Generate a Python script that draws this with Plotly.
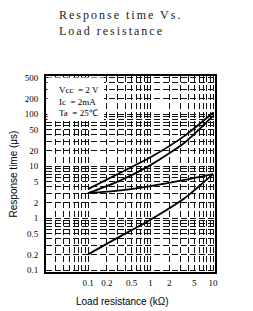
import plotly.graph_objects as go

# Data
load_k = [0.1, 0.3, 1.0, 3.5, 10]
curve_a = [3.6, 7.0, 14.7, 38, 106]
curve_b = [3.0, 5.0, 10.4, 28, 92]
curve_c = [3.0, 3.35, 4.1, 5.4, 7.0]
curve_d = [0.2, 0.42, 0.93, 2.4, 7.0]

x_ticks = [0.1, 0.2, 0.5, 1, 2, 5, 10]
x_tick_text = ["0.1", "0.2", "0.5", "1", "2", "5", "10"]
y_ticks = [0.1, 0.2, 0.5, 1, 2, 5, 10, 20, 50, 100, 200, 500]
y_tick_text = ["0.1", "0.2", "0.5", "1", "2", "5", "10", "20", "50", "100", "200", "500"]

x_minor = [m * d for d in (0.01, 0.1, 1) for m in range(2, 10)] + [0.1, 1, 10]
y_minor = [m * d for d in (0.1, 1, 10, 100) for m in range(1, 10)]

fig = go.Figure()
for ys in (curve_a, curve_b, curve_c, curve_d):
    fig.add_trace(go.Scatter(x=load_k, y=ys, mode="lines",
                             line=dict(color="black", width=1.8, shape="spline", smoothing=0.6),
                             showlegend=False, hoverinfo="skip"))

# page body has an 8px default margin; compensate
O = 8
W, H = 253 - O, 311 - O
L, R, T, B = 46, 215, 76, 272          # plot box in reference pixels
pw, ph = R - L, B - T

grid = dict(gridcolor="#111", gridwidth=1.1, griddash="6px,3px")

fig.update_xaxes(type="log", range=[-1.672, 1.032], automargin=False,
                 tickvals=x_ticks, ticktext=x_tick_text,
                 tickfont=dict(family="Liberation Serif", size=9, color="black"),
                 showline=True, linecolor="black", linewidth=2, mirror=True,
                 ticks="", ticklabelstandoff=1,
                 showgrid=True, **grid,
                 minor=dict(tickvals=x_minor, showgrid=True, ticks="", **grid),
                 zeroline=False)
fig.update_yaxes(type="log", range=[-1.038, 2.731], automargin=False,
                 tickvals=y_ticks, ticktext=y_tick_text,
                 tickfont=dict(family="Liberation Serif", size=9, color="black"),
                 showline=True, linecolor="black", linewidth=2, mirror=True,
                 ticks="", ticklabelstandoff=4,
                 showgrid=True, **grid,
                 minor=dict(tickvals=y_minor, showgrid=True, ticks="", **grid),
                 title=dict(text="Response time (μs)", font=dict(family="Liberation Sans", size=10, color="black"), standoff=8),
                 zeroline=False)

fig.add_shape(type="rect", xref="paper", yref="paper",
              x0=1.5 / pw, x1=(104 - L) / pw, y0=(B - 121) / ph, y1=1 - 1.5 / ph,
              fillcolor="white", line=dict(width=0), layer="above")

fig.add_annotation(xref="paper", yref="paper", x=(57 - L) / pw, y=(B - 101) / ph,
                   xanchor="left", yanchor="middle", align="left", showarrow=False,
                   text="Vcc  = 2 V<br>Ic  = 2mA<br>Ta  = 25℃",
                   font=dict(family="Liberation Serif", size=9, color="black"))

fig.add_annotation(xref="paper", yref="paper", x=(57 - L) / pw, y=(B - 23) / ph,
                   xanchor="left", yanchor="middle", align="left", showarrow=False,
                   text='<span style="letter-spacing:2px">Response time Vs.<br>Load resistance</span>',
                   font=dict(family="Liberation Serif", size=12, color="#222"))

fig.add_annotation(xref="paper", yref="paper", x=(122 - L) / pw, y=(B - 301) / ph,
                   xanchor="center", yanchor="middle", showarrow=False,
                   text="Load resistance (kΩ)",
                   font=dict(family="Liberation Sans", size=10, color="black"))

fig.update_layout(width=W, height=H,
                  margin=dict(l=L - O, r=253 - R, t=T - O, b=311 - B, pad=0),
                  paper_bgcolor="white", plot_bgcolor="white")

fig.write_html("out.html")
